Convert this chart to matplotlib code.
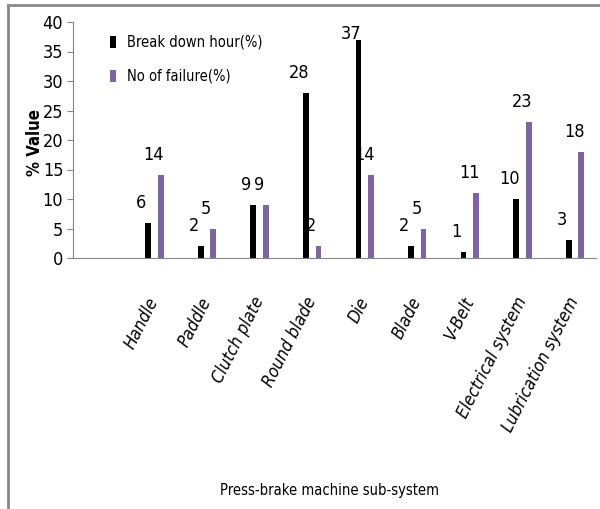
import numpy as np
import matplotlib
matplotlib.use('Agg')
import matplotlib.pyplot as plt
from matplotlib.lines import Line2D
from matplotlib import font_manager

subsystems = ['Handle', 'Paddle', 'Clutch plate', 'Round blade', 'Die',
              'Blade', 'V-Belt', 'Electrical system', 'Lubrication system']
breakdown_hour = [6, 2, 9, 28, 37, 2, 1, 10, 3]
no_of_failure = [14, 5, 9, 2, 14, 5, 11, 23, 18]
yticks = [0, 5, 10, 15, 20, 25, 30, 35, 40]

# the original uses a narrow Excel font, so take a condensed sans face if there is one
def stretch_val(s):
    return font_manager.stretch_dict.get(s, s) if isinstance(s, str) else s

cond = [f for f in font_manager.fontManager.ttflist
        if 'Sans' in f.name and str(stretch_val(f.stretch)).isdigit()
        and int(stretch_val(f.stretch)) < 500]
fam, stretch = 'Liberation Sans', 'normal'
if cond:
    fam, stretch = cond[0].name, cond[0].stretch
plt.rcParams['font.family'] = [fam, 'DejaVu Sans']
plt.rcParams['font.stretch'] = stretch

fig = plt.figure(figsize=(6, 5.09), dpi=100)
ax = fig.add_axes([73/600, 1-258/509, (596-73)/600, (258-22)/509])

x = np.arange(len(subsystems))
w = 0.11
off = 0.12
b1 = ax.bar(x - off, breakdown_hour, w, color='black', label='Break down hour(%)')
b2 = ax.bar(x + off, no_of_failure, w, color='#8064A2', label='No of failure(%)')

# data labels, up and to the left of each bar
for bars, vals in [(b1, breakdown_hour), (b2, no_of_failure)]:
    for r, v in zip(bars, vals):
        dy = 6 if v > 35 else 20
        ax.annotate(str(v), (r.get_x() + r.get_width()/2, v),
                    xytext=(-7, dy), textcoords='offset pixels',
                    ha='center', va='center', fontsize=13)

ax.set_xlim(-1.55, 8.4)
ax.set_ylim(0, 40)
ax.set_yticks(yticks)
ax.set_xticks(x)
ax.set_xticklabels(subsystems, rotation=63, ha='right', va='center',
                   rotation_mode='anchor', style='italic', fontsize=12.5)
ax.tick_params(axis='x', length=0, pad=29)
ax.tick_params(axis='y', length=4, color='#868686', labelsize=13, pad=3)

for s in ['top', 'right']:
    ax.spines[s].set_visible(False)
ax.spines['left'].set_color('#868686')
ax.spines['bottom'].set_color('#868686')

ax.legend(loc='upper left', bbox_to_anchor=(104/600, 1-29/509),
          bbox_transform=fig.transFigure, frameon=False, fontsize=10.5,
          handlelength=0.45, handleheight=0.9, handletextpad=0.7,
          labelspacing=1.3, borderaxespad=0)

fig.text(35/600, 1-143/509, '% Value', rotation=90, ha='center', va='center',
         fontsize=12, fontweight='bold', family='DejaVu Sans')
fig.text(330/600, 1-490/509, 'Press-brake machine sub-system',
         ha='center', va='center', fontsize=10.5)

# outer frame: top and left edge only
fig.add_artist(Line2D([8/600, 1], [1-5/509, 1-5/509], color='#888888', lw=2,
                      transform=fig.transFigure))
fig.add_artist(Line2D([8/600, 8/600], [0, 1-5/509], color='#888888', lw=2,
                      transform=fig.transFigure))

fig.savefig('out.png', dpi=100)
